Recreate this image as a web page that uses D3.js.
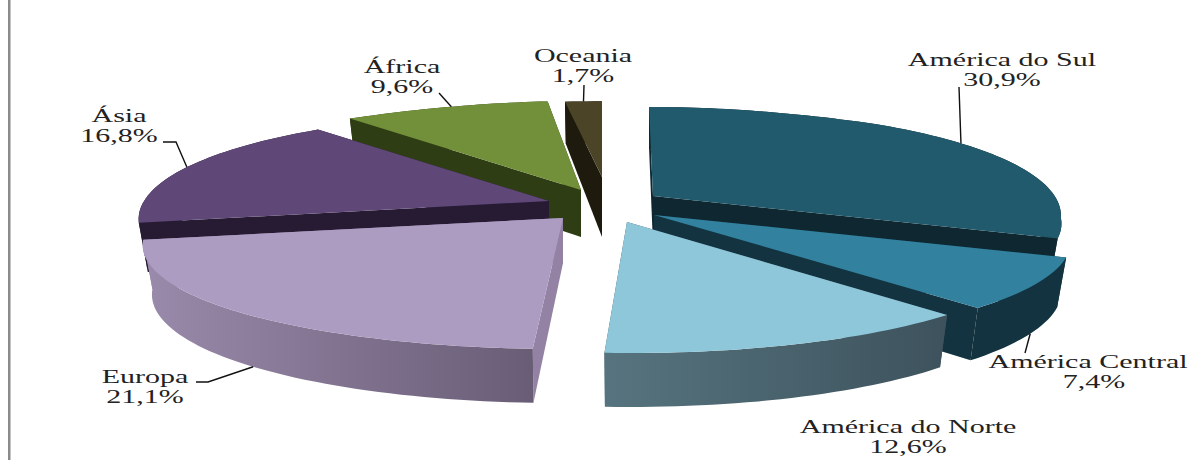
<!DOCTYPE html>
<html lang="pt">
<head>
<meta charset="utf-8">
<title>Distribuição por continente</title>
<script src="https://cdn.jsdelivr.net/npm/d3@7"></script>
<style>
  html, body { margin: 0; background: #fff; }
  svg { display: block; }
  text { font-family: "Liberation Serif", serif; font-size: 18px; fill: #222; text-anchor: middle; }
</style>
</head>
<body>
<svg id="chart" width="1190" height="460"></svg>
<script>
// Share of each continent, clockwise from twelve o'clock
const regions = ["América do Sul", "América Central", "América do Norte", "Europa", "Ásia", "África", "Oceania"];
const shares = [30.9, 7.4, 12.6, 21.1, 16.8, 9.6, 1.7];

// Colours: upper face, cut faces, rim start and rim end
const topColors = ["#215a6c", "#31819f", "#8fc7da", "#ad9cc2", "#5f4778", "#728f39", "#4b4427"];
const cutColors = ["#0e2730", "#12333f", "#3d525c", "#9382a3", "#261b33", "#2f3d14", "#1f1a0e"];
const rimStart = ["#0e2730", "#12333f", "#56747f", "#9a8aab", "#261b33", "#2f3d14", "#1f1a0e"];
const rimEnd = ["#0e2730", "#12333f", "#3d525c", "#695d76", "#261b33", "#2f3d14", "#1f1a0e"];

// Exploded position of each slice's tip, its fit to the tilted plane and its drop at the tip
const tipX = [653, 654, 627, 563, 549, 581, 602];
const tipY = [196, 215, 222, 218, 201, 190, 177];
const sliceScaleX = [0.982, 1.005, 0.985, 1.012, 0.99, 0.99, 1.1];
const sliceScaleY = [1, 1, 1, 1, 1, 1, 0.85];
const sliceLean = [0.045, 0, 0.03, -0.023, 0, 0, 0];
const tipDepth = [48, 48, 48, 45, 48, 47, 60];

// Back-to-front drawing order
const paintOrder = [6, 5, 0, 4, 1, 3, 2];

// Label placement: centre x of each line, first and second baselines
const labelX = [1002, 1088, 908, 145, 119, 402, 583];
const valueX = [1002, 1094, 908, 145, 119, 402, 583];
const labelY1 = [66, 368, 433, 383, 122, 73, 62];
const labelY2 = [86, 388, 453, 403, 142, 93, 82];
// Leader lines: which rim they leave from, how far along the slice, and their path to the label
const leaderFromBase = [false, true, false, true, false, false, false];
const leaderAt = [0.52, 0.47, 0.5, 0.49, 0.5, 0.5, 0.5];
const leaderPaths = [
  [[959, 87]],
  [[1025, 353]],
  [],
  [[208, 382], [196, 382]],
  [[176, 142], [163, 142]],
  [[439, 93]],
  [[584, 85]]
];

const svg = d3.select("#chart");

// Perspective: v runs from -1 (back of the pie) to 1 (front)
const radiusX = d3.scaleLinear().domain([-1, -0.766, 0, 0.19, 0.74, 1]).range([315, 358, 409, 422, 479, 504]);
const radiusY = d3.scaleLinear().domain([-1, 1]).range([89, 131]);
const depth = d3.scaleLinear().domain([-1, 1]).range([42, 54]);
const baseShrink = 0.978;
const textStretch = 1.667;

const arcs = d3.pie().sort(null).startAngle(0).endAngle(2 * Math.PI)(shares);
const line = d3.line();

function topPoint(i, angle) {
  const u = Math.sin(angle), v = -Math.cos(angle);
  const dy = v * radiusY(v) * sliceScaleY[i];
  const dx = u * radiusX(v) * sliceScaleX[i] + dy * sliceLean[i];
  return [tipX[i] + dx, tipY[i] + dy];
}
function basePoint(i, angle) {
  const [x, y] = topPoint(i, angle);
  return [tipX[i] + (x - tipX[i]) * baseShrink, y + depth(-Math.cos(angle))];
}
function arcPoints(i, pointFn) {
  const { startAngle: a0, endAngle: a1 } = arcs[i];
  const steps = Math.max(4, Math.ceil((a1 - a0) * 40));
  return d3.range(steps + 1).map(k => pointFn(i, a0 + (a1 - a0) * k / steps));
}

// Rim gradients, lighter at the left
const defs = svg.append("defs");
regions.forEach((_, i) => {
  const g = defs.append("linearGradient").attr("id", `rim${i}`)
    .attr("x1", 0).attr("x2", 1).attr("y1", 0).attr("y2", 0);
  g.append("stop").attr("offset", 0).attr("stop-color", rimStart[i]);
  g.append("stop").attr("offset", 1).attr("stop-color", rimEnd[i]);
});

// Page rule at the left edge
svg.append("rect").attr("x", 8).attr("y", 0).attr("width", 2.5).attr("height", 460).attr("fill", "#8a8a8a");

// Slices, painted from back to front
paintOrder.forEach(i => {
  const slice = svg.append("g").attr("class", "slice").attr("data-region", regions[i]);
  const tipTop = [tipX[i], tipY[i]];
  const tipBase = [tipX[i], tipY[i] + tipDepth[i]];
  [arcs[i].startAngle, arcs[i].endAngle].forEach(a => {
    slice.append("path")
      .attr("d", line([tipTop, topPoint(i, a), basePoint(i, a), tipBase]) + "Z")
      .attr("fill", cutColors[i]);
  });
  const upper = arcPoints(i, topPoint);
  const lower = arcPoints(i, basePoint);
  slice.append("path")
    .attr("d", line(upper.concat(lower.slice().reverse())) + "Z")
    .attr("fill", `url(#rim${i})`);
  slice.append("path")
    .attr("d", line([tipTop, ...upper]) + "Z")
    .attr("fill", topColors[i]);
});

// Leader lines run from the rim of each slice out to its label
const percent = d3.formatLocale({ decimal: ",", thousands: ".", grouping: [3], currency: ["", ""] }).format(".1f");
arcs.forEach((arc, i) => {
  if (!leaderPaths[i].length) return;
  const at = arc.startAngle + (arc.endAngle - arc.startAngle) * leaderAt[i];
  const anchor = leaderFromBase[i] ? basePoint(i, at) : topPoint(i, at);
  svg.append("path")
    .attr("d", line([anchor, ...leaderPaths[i]]))
    .attr("fill", "none").attr("stroke", "#111").attr("stroke-width", 1.4);
});

// Two-line labels, set wide as in the printed figure
regions.forEach((name, i) => {
  const label = svg.append("text")
    .attr("transform", `translate(${labelX[i]},0) scale(${textStretch},1)`);
  label.append("tspan").attr("x", 0).attr("y", labelY1[i]).text(name);
  label.append("tspan").attr("x", (valueX[i] - labelX[i]) / textStretch).attr("y", labelY2[i]).text(percent(shares[i]) + "%");
});
</script>
</body>
</html>
